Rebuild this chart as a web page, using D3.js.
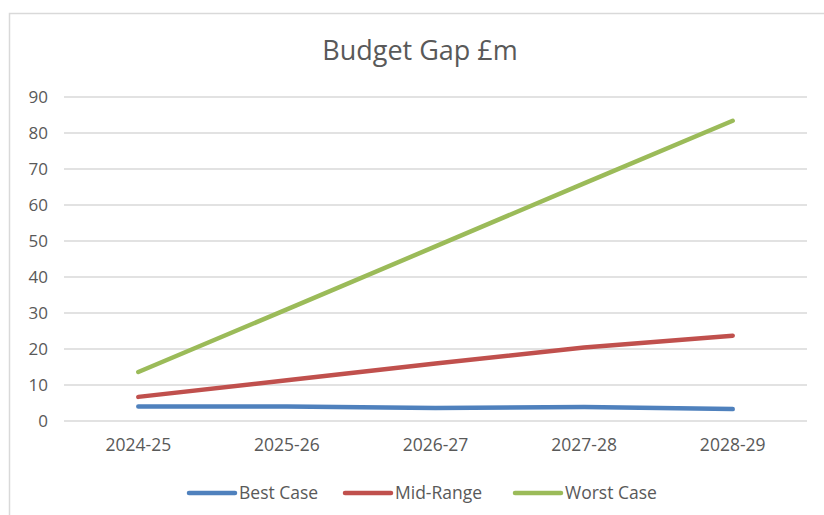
<!DOCTYPE html>
<html>
<head>
<meta charset="utf-8">
<script src="https://cdn.jsdelivr.net/npm/d3@7"></script>
<style>
  body { margin: 0; background: #fff; }
  text { font-family: "Open Sans", sans-serif; fill: #595959; }
</style>
</head>
<body>
<div id="chart"></div>
<script>
// chart data
var years = ["2024-25", "2025-26", "2026-27", "2027-28", "2028-29"];
var bestCase = [4.0, 4.0, 3.6, 3.9, 3.3];
var midRange = [6.7, 11.3, 16.0, 20.4, 23.7];
var worstCase = [13.6, 31.0, 48.5, 66.0, 83.4];
var yTicks = [0, 10, 20, 30, 40, 50, 60, 70, 80, 90];
var seriesNames = ["Best Case", "Mid-Range", "Worst Case"];
var seriesColours = ["#4f81bd", "#c0504d", "#9bbb59"];

(function () {
    var width = 824, height = 515;
    var margin = { top: 97, right: 17, bottom: 94, left: 64 };

    var svg = d3.select('#chart')
                .append('svg')
                .attr('width', width)
                .attr('height', height);

    // chart border (left & top only visible)
    svg.append('rect')
        .attr('x', 9.5).attr('y', 13.5)
        .attr('width', 900).attr('height', 600)
        .attr('fill', 'none')
        .attr('stroke', '#d9d9d9')
        .attr('stroke-width', 1.5);

    svg.append('text')
        .attr('x', 420).attr('y', 60)
        .attr('text-anchor', 'middle')
        .style('font-size', '27px')
        .text('Budget Gap £m');

    var g = svg.append('g')
        .attr('transform', 'translate(' + margin.left + ',' + margin.top + ')');

    var w = width - margin.left - margin.right;
    var h = height - margin.top - margin.bottom;

    var xScale = d3.scaleBand().domain(years).range([0, w]);
    var yScale = d3.scaleLinear().domain([0, 90]).range([h, 0]);

    // gridlines
    g.selectAll('.grid')
        .data(yTicks)
        .enter()
        .append('line')
        .attr('x1', 0).attr('x2', w)
        .attr('y1', function(d) { return yScale(d); })
        .attr('y2', function(d) { return yScale(d); })
        .attr('stroke', '#d9d9d9')
        .attr('stroke-width', 1.5);

    // y axis labels
    var yAxis = g.append('g')
        .call(d3.axisLeft(yScale).tickValues(yTicks).tickSize(0).tickPadding(16));
    yAxis.select('.domain').remove();
    yAxis.selectAll('text').style('font-size', '17px').attr('fill', '#595959');

    // x axis labels
    var xAxis = g.append('g')
        .attr('transform', 'translate(0,' + h + ')')
        .call(d3.axisBottom(xScale).tickSize(0).tickPadding(18));
    xAxis.select('.domain').remove();
    xAxis.selectAll('text').style('font-size', '17.5px').attr('fill', '#595959');

    var all = [bestCase, midRange, worstCase];
    var line = d3.line()
        .x(function(d, i) { return xScale(years[i]) + xScale.bandwidth() / 2; })
        .y(function(d) { return yScale(d); });

    // draw lines, best case on top
    [2, 1, 0].forEach(function(k) {
        g.append('path')
            .datum(all[k])
            .attr('d', line)
            .attr('fill', 'none')
            .attr('stroke', seriesColours[k])
            .attr('stroke-width', 4.5)
            .attr('stroke-linecap', 'round')
            .attr('stroke-linejoin', 'round');
    });

    // legend
    var legendX = [189, 345, 515];
    var legend = svg.selectAll('.legend')
        .data(seriesNames)
        .enter()
        .append('g')
        .attr('transform', function(d, i) { return 'translate(' + legendX[i] + ',493)'; });
    legend.append('line')
        .attr('x1', 0).attr('x2', 46)
        .attr('stroke', function(d, i) { return seriesColours[i]; })
        .attr('stroke-width', 4.5)
        .attr('stroke-linecap', 'round');
    legend.append('text')
        .attr('x', 50).attr('y', 6)
        .style('font-size', '17.5px')
        .text(function(d) { return d; });
})();
</script>
</body>
</html>
